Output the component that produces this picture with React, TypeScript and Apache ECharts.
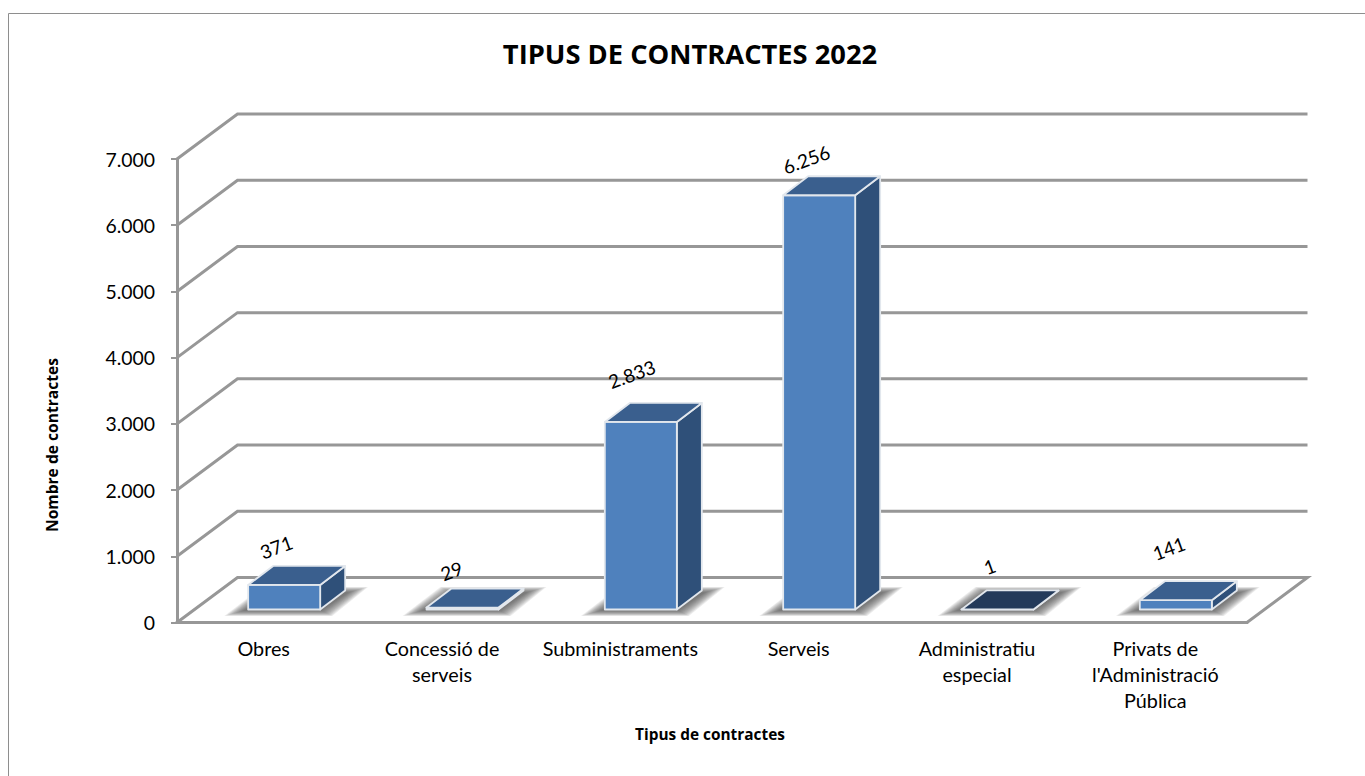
import React, { useEffect, useRef } from "react";
import * as echarts from "echarts";

const categories = ["Obres", "Concessió de\nserveis", "Subministraments", "Serveis", "Administratiu\nespecial", "Privats de\nl'Administració\nPública"];
const contractValues = [371, 29, 2833, 6256, 1, 141];
const dataLabels = ["371", "29", "2.833", "6.256", "1", "141"];
const wallTicks = [1000, 2000, 3000, 4000, 5000, 6000, 7000];
const labelNudgeX = [-8, -11, -9, -13, -8, -7];
const labelNudgeY = [-38, -37, -48, -36, -43, -52];

const FONT = "Lato";
const GRID_COLOR = "#979797";
const WALL_DX = 60.5;
const WALL_DY = -45;
const BAR_W = 72;
const BAR_SHIFT_X = 18;
const BAR_SHIFT_Y = -13;
const BAR_DX = 25;
const BAR_DY = -19;
const EDGE = "#e2e7ed";
const SHADOW_LAYERS = [22, 20, 18, 16, 14, 12, 10, 8, 6, 4, 2, 0];

export default function App() {
  const ref = useRef<HTMLDivElement>(null);
  useEffect(() => {
    document.body.style.margin = "0";
    document.body.style.overflow = "hidden";
    const chart = echarts.init(ref.current!, undefined, { renderer: "svg" });
    chart.setOption({
      animation: false,
      backgroundColor: "#ffffff",
      title: {
        text: "TIPUS DE CONTRACTES 2022",
        left: 685,
        top: 35,
        textAlign: "center",
        textStyle: { fontFamily: "Open Sans", fontSize: 27.3, fontWeight: "bold", color: "#000" },
      },
      grid: { left: 177, right: 118, top: 159, bottom: 153.5 },
      xAxis: {
        type: "category",
        data: categories,
        name: "Tipus de contractes",
        nameLocation: "middle",
        nameGap: 104,
        nameTextStyle: { fontFamily: "Open Sans", fontSize: 15.4, fontWeight: "bold", color: "#000", padding: [0, 4, 0, 0] },
        axisTick: { show: false },
        axisLine: { show: true, lineStyle: { color: GRID_COLOR, width: 3 } },
        axisLabel: { interval: 0, margin: 12, padding: [0, 5, 0, 0], fontFamily: FONT, fontSize: 19.8, lineHeight: 26, color: "#000" },
      },
      yAxis: {
        type: "value",
        min: 0,
        max: 7000,
        interval: 1000,
        splitLine: { show: false },
        axisLine: { show: true, lineStyle: { color: GRID_COLOR, width: 3 } },
        axisTick: { show: true, length: 6, lineStyle: { color: GRID_COLOR, width: 2 } },
        axisLabel: {
          margin: 22,
          fontFamily: FONT,
          fontSize: 19.4,
          color: "#000",
          formatter: (v: number) => (v === 0 ? "0" : String(v / 1000) + ".000"),
        },
      },
      graphic: [
        {
          type: "polyline",
          silent: true,
          z: -10,
          shape: { points: [[8.5, 776], [8.5, 13.5], [1365, 13.5]] },
          style: { fill: "none", stroke: "#8e8e8e", lineWidth: 1 },
        },
        {
          type: "text",
          x: 52,
          y: 445,
          rotation: Math.PI / 2,
          style: { text: "Nombre de contractes", fontFamily: "Open Sans", fontSize: 15.6, fontWeight: "bold", fill: "#000", align: "center", verticalAlign: "middle" },
        },
      ],
      series: [
        {
          type: "custom",
          name: "wall",
          z: 1,
          silent: true,
          data: wallTicks.map((v) => [0, v]),
          encode: { x: 0, y: 1 },
          renderItem: (_p: any, api: any) => {
            const c = api.coord([0, api.value(1)]);
            const w = api.size([1, 0])[0];
            const x0 = c[0] - w / 2;
            const x1 = x0 + w * categories.length;
            return {
              type: "polyline",
              shape: { points: [[x0, c[1]], [x0 + WALL_DX, c[1] + WALL_DY], [x1 + WALL_DX, c[1] + WALL_DY]] },
              style: { fill: "none", stroke: GRID_COLOR, lineWidth: 3 },
            };
          },
        },
        {
          type: "custom",
          name: "floor",
          z: 1,
          silent: true,
          data: [[0, 0]],
          encode: { x: 0, y: 1 },
          renderItem: (_p: any, api: any) => {
            const c = api.coord([0, 0]);
            const w = api.size([1, 0])[0];
            const x0 = c[0] - w / 2;
            const x1 = x0 + w * categories.length;
            return {
              type: "polygon",
              shape: { points: [[x0, c[1]], [x0 + WALL_DX, c[1] + WALL_DY], [x1 + WALL_DX, c[1] + WALL_DY], [x1, c[1]]] },
              style: { fill: "#ffffff", stroke: GRID_COLOR, lineWidth: 3, lineJoin: "miter" },
            };
          },
        },
        {
          type: "custom",
          name: "Nombre de contractes",
          z: 3,
          silent: true,
          data: contractValues.map((v, i) => [i, v]),
          encode: { x: 0, y: 1 },
          renderItem: (_p: any, api: any) => {
            const i = api.value(0);
            const v = api.value(1);
            const base = api.coord([i, 0]);
            const top = api.coord([i, v]);
            const xl = base[0] + BAR_SHIFT_X - BAR_W / 2;
            const xr = xl + BAR_W;
            const yb = base[1] + BAR_SHIFT_Y;
            const yt = top[1] + BAR_SHIFT_Y;
            const edge = { stroke: EDGE, lineWidth: 1.8, lineJoin: "round" };
            const flat = v < 5;
            const shadows = SHADOW_LAYERS.map((e) => ({
              type: "polygon",
              shape: {
                points: [
                  [xl - 4 - e * 0.9, yb + 1 + e * 0.25],
                  [xr + 1 + e * 0.5, yb + 1 + e * 0.25],
                  [xr + BAR_DX + 3 + e * 0.9, yb + BAR_DY + 2 - e * 0.25],
                  [xl + BAR_DX - e * 0.5, yb + BAR_DY + 2 - e * 0.25],
                ],
              },
              style: { fill: "rgba(85,85,85,0.11)" },
            }));
            return {
              type: "group",
              children: [
                ...shadows,
                {
                  type: "polygon",
                  shape: { points: [[xr, yt], [xr + BAR_DX, yt + BAR_DY], [xr + BAR_DX, yb + BAR_DY], [xr, yb]] },
                  style: { fill: "#2f5079", ...edge },
                },
                {
                  type: "polygon",
                  shape: { points: [[xl, yb], [xr, yb], [xr, yt], [xl, yt]] },
                  style: { fill: "#4f81bd", ...edge },
                },
                {
                  type: "polygon",
                  shape: { points: [[xl, yt], [xr, yt], [xr + BAR_DX, yt + BAR_DY], [xl + BAR_DX, yt + BAR_DY]] },
                  style: { fill: flat ? "#233a5a" : "#3a5f8e", ...edge },
                },
              ],
            };
          },
        },
        {
          type: "custom",
          name: "labels",
          z: 5,
          silent: true,
          data: contractValues.map((v, i) => [i, v]),
          encode: { x: 0, y: 1 },
          renderItem: (_p: any, api: any) => {
            const i = api.value(0);
            const top = api.coord([i, api.value(1)]);
            return {
              type: "text",
              x: top[0] + BAR_SHIFT_X + labelNudgeX[i],
              y: top[1] + BAR_SHIFT_Y + labelNudgeY[i],
              rotation: 0.35,
              style: { text: dataLabels[i], fontFamily: FONT, fontSize: 19, fill: "#000", align: "center", verticalAlign: "middle" },
            };
          },
        },
      ],
    });
    return () => chart.dispose();
  }, []);
  return <div ref={ref} style={{ width: 1365, height: 776 }} />;
}
